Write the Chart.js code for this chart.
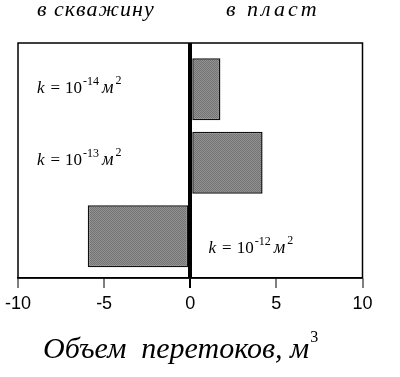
<!DOCTYPE html>
<html>
<head>
<meta charset="utf-8">
<script src="https://cdn.jsdelivr.net/npm/chart.js@4"></script>
<style>
  html, body { margin: 0; padding: 0; background: #fff; }
</style>
</head>
<body>
<canvas id="chart" width="400" height="377"></canvas>
<script>
// rows from top to bottom of the plot
const rowPos = [2, 1, 0];
const exponents = [-14, -13, -12];
const volumes = [1.75, 4.2, -5.95];
const xTicks = [-10, -5, 0, 5, 10];
const sideLabels = ['в скважину', 'в пласт'];
const axisTitle = 'Объем  перетоков, м';
const axisTitleSup = '3';

const canvas = document.getElementById('chart');
const ctx = canvas.getContext('2d');

// grey dotted fill like the scanned bars
function greyPattern() {
    const c = document.createElement('canvas');
    c.width = 2;
    c.height = 2;
    const g = c.getContext('2d');
    g.fillStyle = '#939393';
    g.fillRect(0, 0, 2, 2);
    g.fillStyle = '#727272';
    g.fillRect(0, 0, 1, 1);
    g.fillRect(1, 1, 1, 1);
    return ctx.createPattern(c, 'repeat');
}

const serif = 'Liberation Serif';

function drawK(c, x, y, exp) {
    c.textBaseline = 'alphabetic';
    c.textAlign = 'left';
    c.fillStyle = '#000';
    c.font = 'italic 17px ' + serif;
    c.fillText('k', x, y);
    x += c.measureText('k').width + 6;
    c.font = '17px ' + serif;
    c.fillText('=', x, y);
    x += c.measureText('=').width + 5;
    c.fillText('10', x, y);
    x += c.measureText('10').width + 1;
    c.font = '12px ' + serif;
    c.fillText('-' + Math.abs(exp), x, y - 8);
    x += c.measureText('-' + Math.abs(exp)).width + 3;
    c.font = 'italic 18px ' + serif;
    c.fillText('м', x, y);
    x += c.measureText('м').width + 2;
    c.font = '12px ' + serif;
    c.fillText('2', x, y - 9);
}

// where each k label sits, in data units
const labelAnchors = [
    { x: -8.9, y: 1.95 },
    { x: -8.9, y: 0.97 },
    { x: 1.06, y: -0.23 }
];

const frameAndText = {
    id: 'frameAndText',
    beforeDatasetsDraw(chart) {
        const { ctx: c, chartArea: a } = chart;
        c.save();
        c.strokeStyle = '#000';
        c.lineWidth = 1.5;
        c.strokeRect(a.left, a.top, a.right - a.left, a.bottom - a.top);
        c.restore();
    },
    afterDraw(chart) {
        const c = chart.ctx;
        const xs = chart.scales.x;
        const ys = chart.scales.y;
        c.save();

        // headers above the frame
        c.fillStyle = '#000';
        c.textBaseline = 'alphabetic';
        c.textAlign = 'left';
        c.font = 'italic 22px ' + serif;
        c.letterSpacing = '1px';
        c.fillText(sideLabels[0], 37, 16);
        c.letterSpacing = '3px';
        c.fillText(sideLabels[1], 226, 16);
        c.letterSpacing = '0px';

        exponents.forEach((e, i) => {
            drawK(c, xs.getPixelForValue(labelAnchors[i].x), ys.getPixelForValue(labelAnchors[i].y), e);
        });

        // axis title with superscript
        c.font = 'italic 30px ' + serif;
        c.fillText(axisTitle, 43, 358);
        const w = c.measureText(axisTitle).width;
        c.font = '16px ' + serif;
        c.fillText(axisTitleSup, 43 + w + 1, 342);
        c.restore();
    }
};

new Chart(ctx, {
    type: 'bar',
    data: {
        datasets: [{
            data: volumes.map((v, i) => ({ x: v, y: rowPos[i] })),
            backgroundColor: greyPattern(),
            borderColor: '#111',
            borderWidth: 1.5,
            borderSkipped: false,
            barPercentage: 0.844,
            categoryPercentage: 1
        }]
    },
    options: {
        indexAxis: 'y',
        responsive: false,
        animation: false,
        layout: { padding: { left: 17, right: 37.5, top: 43, bottom: 0 } },
        plugins: {
            legend: { display: false },
            tooltip: { enabled: false }
        },
        scales: {
            x: {
                type: 'linear',
                min: -10,
                max: 10,
                z: 1,
                afterBuildTicks: s => { s.ticks = xTicks.map(v => ({ value: v })); },
                afterFit: s => { s.height = 99; },
                ticks: {
                    color: '#000',
                    padding: 5,
                    font: { family: 'Liberation Sans', size: 18 }
                },
                grid: {
                    color: '#000',
                    lineWidth: c => (c.tick && c.tick.value === 0 ? 4 : 0),
                    tickLength: 10,
                    tickColor: '#000',
                    tickWidth: c => (c.tick && c.tick.value === 0 ? 2 : 1)
                },
                border: { display: true, color: '#000', width: 1.5 }
            },
            y: {
                type: 'linear',
                min: -0.57,
                max: 2.63,
                offset: false,
                display: false,
                afterBuildTicks: s => { s.ticks = rowPos.map(v => ({ value: v })); }
            }
        }
    },
    plugins: [frameAndText]
});
</script>
</body>
</html>
